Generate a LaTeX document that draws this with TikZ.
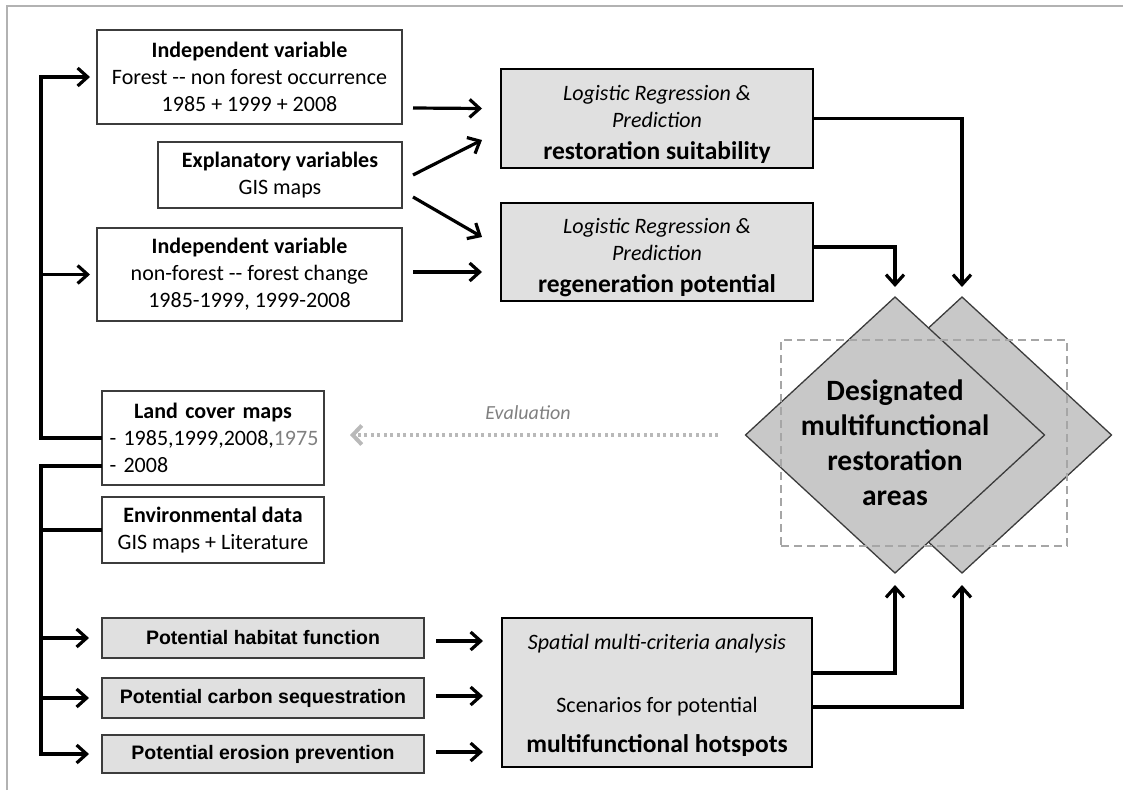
\documentclass[tikz,border=0pt]{standalone}
\usepackage{fontspec}
\setmainfont{Carlito}
\newfontfamily\arialfont{Liberation Sans}
\usetikzlibrary{arrows.meta,shapes.geometric,calc}
\definecolor{boxgray}{HTML}{E0E0E0}
\definecolor{diagray}{HTML}{C8C8C8}
\definecolor{edgegray}{HTML}{3C3C3C}
\newcommand\setfs[2]{\fontsize{#1}{#2}\selectfont}

\begin{document}
\begin{tikzpicture}[x=1pt,y=-1pt,
  every node/.style={inner sep=0pt, outer sep=0pt},
  whitebox/.style={draw=edgegray, line width=1.2pt, fill=white, align=center, font=\setfs{22}{27}},
  calcbox/.style={draw=black, line width=2pt, fill=boxgray, align=center, font=\setfs{22}{27}},
  factorbox/.style={draw=edgegray, line width=1.4pt, fill=boxgray, font=\arialfont\bfseries\setfs{19.5}{23}},
  area/.style={diamond, draw=edgegray, line width=1.3pt, fill=diagray, minimum width=299pt, minimum height=276pt},
  flow/.style={line width=3.2pt, -{Straight Barb[length=10pt,width=18pt]}},
  link/.style={line width=3.2pt},
  evalflow/.style={draw=gray!55, line width=4pt, dash pattern=on 3pt off 3.5pt,
    -{Straight Barb[length=9pt,width=19pt,line width=4pt]}}]
\useasboundingbox (0,0) rectangle (1123,790);

% page frame
\draw[gray!60, line width=1.2pt] (7,790) -- (7,6) -- (1123,6);

% input data
\node[whitebox, minimum width=305pt, minimum height=94pt] (indep1) at (249.5,77)
  {\textbf{Independent variable}\\Forest -{}- non forest occurrence\\1985 + 1999 + 2008};
\node[whitebox, minimum width=244pt, minimum height=66pt] (expl) at (280,175)
  {\textbf{Explanatory variables}\\GIS maps};
\node[whitebox, minimum width=305pt, minimum height=93pt] (indep2) at (249.5,274.5)
  {\textbf{Independent variable}\\non-forest -{}- forest change\\1985-1999, 1999-2008};
\node[whitebox, minimum width=222pt, minimum height=94pt, text width=207pt, align=left] (land) at (213,438)
  {\makebox[207pt]{\bfseries Land cover maps}\\\mbox{- 1985,1999,2008,{\color{gray}1975}}\\\mbox{- 2008}};
\node[whitebox, minimum width=222pt, minimum height=66pt] (envdata) at (213,530)
  {\textbf{Environmental data}\\GIS maps + Literature};

% function maps
\node[factorbox, minimum width=322pt, minimum height=40pt] (habitat) at (263,638) {Potential habitat function};
\node[factorbox, minimum width=322pt, minimum height=40pt] (carbon) at (263,698) {Potential carbon sequestration};
\node[factorbox, minimum width=322pt, minimum height=38pt] (erosion) at (263,754) {Potential erosion prevention};

% analyses
\node[calcbox, minimum width=312pt, minimum height=99pt] (suit) at (657,118.5)
  {\rule{0pt}{27pt}\textit{Logistic Regression \&}\\\textit{Prediction}\\[5pt]{\bfseries\setfs{25.5}{31}restoration suitability}};
\node[calcbox, minimum width=312pt, minimum height=98pt] (regen) at (657,252)
  {\rule{0pt}{27pt}\textit{Logistic Regression \&}\\\textit{Prediction}\\[5pt]{\bfseries\setfs{25.5}{31}regeneration potential}};
\node[calcbox, minimum width=310pt, minimum height=149pt] (mca) at (657,692.5)
  {\rule{0pt}{21pt}\textit{Spatial multi-criteria analysis}\\[36pt]Scenarios for potential\\[13pt]{\bfseries\setfs{25.5}{31}multifunctional hotspots}};

% result areas
\node[area] (backarea) at (962,435) {};
\node[area] (mainarea) at (895,435) {};
\node[draw=gray!70, line width=1.2pt, dash pattern=on 8pt off 5pt,
  minimum width=286pt, minimum height=206pt] (zone) at (924,443) {};
\node[align=center, font=\bfseries\setfs{29.5}{35}] (arealabel) at (895,443)
  {Designated\\multifunctional\\restoration\\areas};

% left distribution lines
\coordinate (trunk) at (41,0);
\draw[flow, shorten >=7pt] (land.west) -- (land.west -| trunk) |- (indep1.west);
\draw[flow, shorten >=7pt] (indep2.west -| trunk) -- (indep2.west);
\coordinate (landout) at ($(land.south west)+(0,-19)$);
\draw[flow, shorten >=13pt] (landout) -- (landout -| trunk) |- (erosion.west);
\draw[link] (envdata.west) -- (envdata.west -| trunk);
\draw[flow, shorten >=13pt] (habitat.west -| trunk) -- (habitat.west);
\draw[flow, shorten >=13pt] (carbon.west -| trunk) -- (carbon.west);

% inputs to regressions
\draw[flow] ($(indep1.east)+(11,31)$) -- ($(suit.west)+(-19,-10)$);
\draw[flow] ($(expl.east)+(11,0)$) -- ($(suit.west)+(-19,21.5)$);
\draw[flow] ($(expl.east)+(11,22)$) -- ($(regen.west)+(-19,-15)$);
\draw[flow] ($(indep2.east)+(11,-2.5)$) -- ($(regen.west)+(-19,20)$);

% function maps to multi-criteria analysis
\draw[flow] ($(habitat.east)+(12,3)$) -- ($(mca.west |- habitat.east)+(-19,3)$);
\draw[flow] ($(carbon.east)+(12,-2)$) -- ($(mca.west |- carbon.east)+(-19,-2)$);
\draw[flow] ($(erosion.east)+(12,-2)$) -- ($(mca.west |- erosion.east)+(-19,-2)$);

% results to designated areas
\draw[flow, shorten >=10pt] (suit.east) -| (backarea.north);
\draw[flow, shorten >=10pt] ($(regen.east)+(0,-5)$) -| (mainarea.north);
\draw[flow, shorten >=12pt] ($(mca.east)+(0,-19.5)$) -| (mainarea.south);
\draw[flow, shorten >=12pt] ($(mca.east)+(0,14.5)$) -| (backarea.south);

% evaluation feedback
\coordinate (evalstart) at (718,435);
\draw[evalflow] (evalstart) -- ($(land.east)+(26,-3)$);
\node[font=\itshape\setfs{20}{24}, text=gray] (evallabel) at (528,413) {Evaluation};
\end{tikzpicture}
\end{document}
